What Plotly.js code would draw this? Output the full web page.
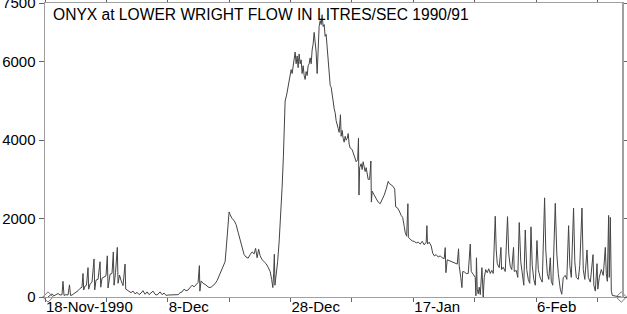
<!DOCTYPE html>
<html>
<head>
<meta charset="utf-8">
<script src="https://cdn.plot.ly/plotly-3.0.1.min.js"></script>
<style>html,body{margin:0;padding:0;background:#fff;}#chart{width:627px;height:314px;}</style>
</head>
<body>
<div id="chart"></div>
<script>
// Days after 18-Nov-1990 00:00
const dayOffsets = [
0.49,0.82,1.14,1.47,1.79,2.12,2.45,2.77,2.93,3.10,3.42,3.75,3.99,4.16,4.40,4.73,5.05,5.38,5.71,6.03,
6.19,6.31,6.52,6.76,7.01,7.12,7.34,7.66,7.99,8.10,8.31,8.64,8.97,9.08,9.29,9.62,9.94,10.15,10.27,10.60,
10.92,11.13,11.25,11.49,11.78,11.90,12.14,12.39,12.71,13.04,13.15,13.37,13.69,14.02,14.34,14.67,15.00,15.32,15.65,15.97,
16.30,16.63,16.95,17.28,17.60,17.93,18.26,18.75,19.07,19.40,19.72,20.05,20.70,21.35,21.68,22.01,22.33,22.66,22.98,23.31,
23.64,23.96,24.29,24.61,24.94,25.15,25.23,25.43,25.75,26.08,26.41,26.73,27.06,27.38,27.71,28.04,28.36,28.69,29.01,29.34,
29.58,29.83,29.99,30.16,30.48,30.81,31.13,31.46,31.79,32.11,32.44,32.76,33.09,33.42,33.74,34.07,34.31,34.56,34.80,35.05,
35.37,35.70,36.02,36.35,36.68,36.92,37.12,37.25,37.36,37.46,37.65,37.90,38.14,38.39,38.63,38.84,38.96,39.12,39.36,39.61,
39.85,40.10,40.26,40.42,40.59,40.75,40.91,41.08,41.24,41.40,41.57,41.73,41.89,42.05,42.22,42.38,42.54,42.71,42.87,43.03,
43.20,43.36,43.52,43.68,43.85,44.01,44.17,44.34,44.50,44.66,44.83,44.99,45.15,45.31,45.48,45.64,45.80,45.97,46.13,46.29,
46.46,46.62,46.78,46.94,47.11,47.27,47.43,47.60,47.76,47.92,48.13,48.25,48.41,48.57,48.74,48.90,49.06,49.23,49.39,49.55,
49.72,50.04,50.37,50.69,50.94,51.07,51.15,51.26,51.51,51.67,51.83,52.00,52.16,52.32,52.49,52.65,52.89,53.09,53.17,53.30,
53.63,53.95,54.28,54.61,54.93,55.26,55.58,55.91,56.07,56.40,56.72,56.97,57.13,57.38,57.70,58.03,58.27,58.52,58.68,58.92,
59.12,59.20,59.50,59.82,60.15,60.47,60.80,61.13,61.45,61.78,62.10,62.22,62.31,62.59,62.92,63.16,63.41,63.73,64.06,64.39,
64.71,65.04,65.20,65.31,65.53,65.85,66.18,66.50,66.83,67.16,67.37,67.48,67.73,67.92,68.05,68.30,68.62,68.95,69.28,69.44,
69.76,70.09,70.20,70.29,70.41,70.58,70.74,70.91,71.18,71.28,71.39,71.56,71.80,72.05,72.29,72.54,72.78,73.02,73.35,73.51,
73.68,74.00,74.28,74.38,74.65,74.98,75.35,75.55,75.80,76.04,76.33,76.45,76.77,77.02,77.26,77.51,77.75,78.00,78.24,78.48,
78.73,78.97,79.17,79.38,79.63,79.87,80.15,80.36,80.69,81.01,81.39,81.58,81.83,82.07,82.32,82.48,82.72,83.13,83.38,83.62,
83.95,84.19,84.43,84.76,85.01,85.30,85.50,85.74,86.11,86.31,86.55,86.88,87.12,87.48,87.69,87.94,88.30,88.51,88.84,89.28,
89.41,89.65,89.93,90.06,90.30,90.63,90.95,91.28,91.44,91.61,91.82,91.93,92.10,92.26,92.42,92.91,93.40,93.89
];
// Flow, litres/sec
const flowValues = [
0,40,80,30,60,90,50,60,400,40,60,50,310,40,50,80,120,160,220,250,
600,180,280,300,750,200,330,380,970,180,430,450,900,250,480,520,540,1050,230,580,
600,1150,300,620,1265,350,560,420,290,840,200,180,140,110,150,80,120,60,100,160,
70,130,60,110,150,70,50,130,60,100,40,50,50,50,60,110,130,200,160,180,
250,300,260,330,370,800,150,410,350,320,280,240,250,290,340,420,530,670,780,900,
1350,1900,2170,2100,2000,1950,1850,1650,1450,1250,1080,1020,990,1080,1150,1100,1240,1000,1220,1050,
950,900,850,760,650,450,240,600,1090,300,550,900,1400,2000,2800,3600,4400,5000,5150,5400,
5650,5800,5700,5900,6050,6250,5950,6150,5850,6200,5950,6050,5700,5900,5650,5550,5750,5650,5900,5950,
6100,5950,6300,6450,6750,6500,6250,5700,6600,6900,7050,6950,7200,6900,6950,6650,6700,6400,6100,5800,
5400,5350,5100,5000,4800,4700,4500,4350,4300,4200,4650,4100,4250,4050,3950,4100,4000,4050,4170,3900,
3800,3760,3600,3450,3500,4050,2600,3300,3400,3250,3450,3350,3200,3300,3150,3000,3000,3470,2420,2700,
2600,2500,2420,2380,2480,2600,2750,2950,2900,2870,2820,2750,2300,2280,2200,2080,2030,1800,1650,1550,
2380,1520,1480,1430,1420,1380,1400,1350,1420,1330,1400,1820,1350,1400,1300,1120,1050,1080,1020,1050,
1000,980,1260,620,950,930,900,880,870,840,1230,800,500,240,650,640,600,600,1350,650,
580,500,30,1000,200,80,250,60,750,100,0,500,700,620,720,600,680,600,2060,1200,
850,750,1265,700,760,650,2050,1100,780,700,1265,650,680,500,1900,900,550,300,1710,700,
450,350,1790,800,450,300,1440,700,480,380,2530,1200,600,450,1000,400,300,2390,1100,600,
200,70,500,550,450,1820,800,500,2270,900,500,450,800,2270,700,450,1200,500,380,1080,
300,150,850,200,500,700,550,1265,600,400,2080,500,2030,150,40,20,10,0
];
const tickDates = ['1990-11-18','1990-11-28','1990-12-08','1990-12-18','1990-12-28','1991-01-07','1991-01-17','1991-01-27','1991-02-06','1991-02-16'];
const tickLabels = ['18-Nov-1990','','8-Dec','','28-Dec','','17-Jan','','6-Feb',''];
const yTickVals = [0,2000,4000,6000,7500];
const yTickLabels = ['0','2000','4000','6000','7500'];
const titleText = 'ONYX at LOWER WRIGHT FLOW IN LITRES/SEC 1990/91';

const startMs = Date.UTC(1990,10,18);
const xs = dayOffsets.map(d => startMs + d*86400000);

const traces = [
  {x: xs, y: flowValues, type:'scatter', mode:'lines',
   line:{color:'#444', width:1}, hoverinfo:'skip'},
  {x: [xs[0], xs[xs.length-1]], y: [flowValues[0], flowValues[flowValues.length-1]],
   type:'scatter', mode:'markers', cliponaxis:false,
   marker:{symbol:'diamond-open', size:8, color:'#777', line:{width:1}}, hoverinfo:'skip'}
];

const layout = {
  width:627, height:314,
  margin:{l:45, r:5, t:3, b:17, pad:0},
  paper_bgcolor:'#fff', plot_bgcolor:'#fff',
  showlegend:false,
  font:{family:'Liberation Sans, Arial, sans-serif', size:15, color:'#000'},
  xaxis:{type:'date', range:['1990-11-18','1991-02-20'],
    tickmode:'array', tickvals:tickDates, ticktext:tickLabels,
    ticks:'outside', ticklen:4, tickcolor:'#666', tickwidth:1,
    ticklabelposition:'outside right', ticklabelstandoff:-4, ticklabeloverflow:'allow',
    showgrid:false, zeroline:false, showline:true, linecolor:'#a0a0a0', linewidth:1, mirror:'ticks',
    tickfont:{size:15, color:'#000'}},
  yaxis:{range:[0,7500], tickmode:'array', tickvals:yTickVals, ticktext:yTickLabels,
    ticks:'outside', ticklen:5, tickcolor:'#666', tickwidth:1, ticklabeloverflow:'allow',
    showgrid:false, zeroline:false, showline:true, linecolor:'#a0a0a0', linewidth:1.5, mirror:'ticks',
    tickfont:{size:15, color:'#000'}},
  annotations:[{text:titleText, xref:'paper', yref:'paper', x:0.0104, y:0.962,
    xanchor:'left', yanchor:'middle', showarrow:false, font:{size:15.6, color:'#000'}}]
};

Plotly.newPlot('chart', traces, layout, {displayModeBar:false, staticPlot:true});
</script>
</body>
</html>
